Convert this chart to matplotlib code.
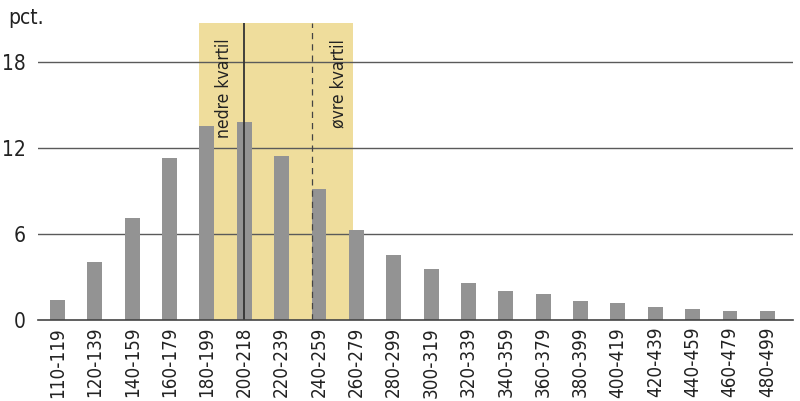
import matplotlib
matplotlib.use("Agg")
import matplotlib.pyplot as plt

plt.rcParams['font.family'] = ['DejaVu Sans']
plt.rcParams['font.stretch'] = 'condensed'

categories = ["110-119", "120-139", "140-159", "160-179", "180-199", "200-218",
              "220-239", "240-259", "260-279", "280-299", "300-319", "320-339",
              "340-359", "360-379", "380-399", "400-419", "420-439", "440-459",
              "460-479", "480-499"]
values = [1.4, 4.05, 7.1, 11.3, 13.5, 13.8, 11.45, 9.1, 6.3, 4.5, 3.55, 2.6,
          2.05, 1.8, 1.33, 1.2, 0.93, 0.79, 0.63, 0.63]
yticks = [0, 6, 12, 18]
band_start, band_end = 3.79, 7.92   # interquartile band (category units)
lower_q, upper_q = 5.0, 6.82        # quartile lines (category units)
band_top = 20.7

fig = plt.figure(figsize=(8, 4.01), dpi=100)
ax = fig.add_axes([0.0475, 0.202, 0.9435, 0.7406])

x = list(range(len(categories)))
ax.axvspan(band_start, band_end, ymin=0, ymax=1, color="#efdd9c", zorder=0, lw=0)
for t in yticks[1:]:
    ax.axhline(t, color="#5a5a5a", lw=1.0, zorder=1)
ax.bar(x, values, width=0.4, color="#939393", zorder=2)
ax.axvline(lower_q, color="#333333", lw=1.3, zorder=3)
ax.axvline(upper_q, color="#444444", lw=0.9, ls=(0, (5, 4)), zorder=3)

ax.text(4.46, 19.6, "nedre kvartil", rotation=90, ha="center", va="top",
        fontsize=12.5, color="#222222", zorder=4)
ax.text(7.53, 19.6, "øvre kvartil", rotation=90, ha="center", va="top",
        fontsize=12.5, color="#222222", zorder=4)

ax.set_xlim(-0.52, 19.68)
ax.set_ylim(0, band_top)
ax.set_yticks(yticks)
ax.set_yticklabels([str(t) for t in yticks], fontsize=15, color="#222222")
ax.set_xticks(x)
ax.set_xticklabels(categories, rotation=90, fontsize=13.5, color="#222222")
ax.tick_params(axis="both", length=0)
ax.tick_params(axis="y", pad=9)
ax.tick_params(axis="x", pad=5)
for s in ["top", "right", "left"]:
    ax.spines[s].set_visible(False)
ax.spines["bottom"].set_color("#444444")
ax.spines["bottom"].set_linewidth(1.2)
ax.spines["bottom"].set_zorder(5)

fig.text(0.01, 0.955, "pct.", fontsize=15, color="#222222", ha="left", va="center")

fig.savefig("out.png", dpi=100)
